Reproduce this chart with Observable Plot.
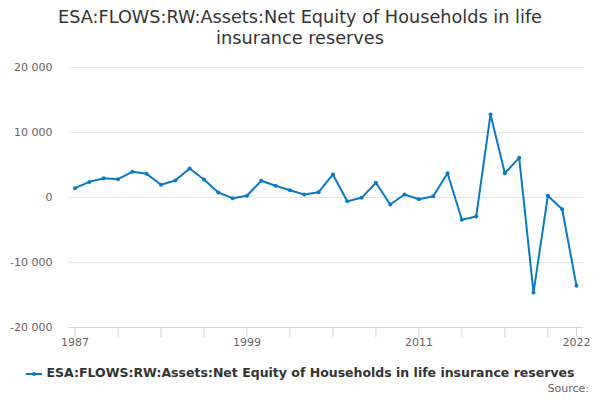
<!DOCTYPE html>
<html>
<head>
<meta charset="utf-8">
<script src="https://cdn.jsdelivr.net/npm/d3@7"></script>
<script src="https://cdn.jsdelivr.net/npm/@observablehq/plot@0.6"></script>
<style>
  body { margin: 0; background: #fff; font-family: "DejaVu Sans", sans-serif; }
  #chart { width: 600px; height: 400px; position: relative; overflow: hidden; }
  #title { box-sizing: border-box; height: 50px; padding-top: 7px; text-align: center; font-size: 17.7px; line-height: 21px; color: #333; }
  #legend { box-sizing: border-box; height: 27px; padding-top: 10px; text-align: center; font-size: 12.5px; font-weight: bold; line-height: 16px; color: #333; white-space: nowrap; }
  #legend svg { vertical-align: middle; margin-right: 5px; }
  #source { position: absolute; right: 11px; top: 382px; font-size: 11px; color: #666; }
</style>
</head>
<body>
<div id="chart">
  <div id="title">ESA:FLOWS:RW:Assets:Net Equity of Households in life<br>insurance reserves</div>
  <div id="plot"></div>
  <div id="legend"><svg width="16" height="10"><line x1="0" y1="5" x2="16" y2="5" stroke="#0a7bc1" stroke-width="2"/><circle cx="8" cy="5" r="2" fill="#0a7bc1"/></svg>ESA:FLOWS:RW:Assets:Net Equity of Households in life insurance reserves</div>
  <div id="source">Source:</div>
</div>
<script>
const years = [1987,1988,1989,1990,1991,1992,1993,1994,1995,1996,1997,1998,1999,2000,2001,2002,2003,2004,2005,2006,2007,2008,2009,2010,2011,2012,2013,2014,2015,2016,2017,2018,2019,2020,2021,2022];
const values = [1430,2400,2970,2820,3950,3640,1950,2620,4460,2770,770,-100,260,2570,1800,1120,460,820,3540,-570,-50,2260,-1080,460,-260,200,3740,-3430,-2920,12770,3740,6100,-14620,260,-1800,-13590];
const yTicks = [-20000,-10000,0,10000,20000];
const xTicks = [1987,1990,1993,1996,1999,2002,2005,2008,2011,2014,2017,2020,2022];
const xLabels = [1987,1999,2011,2022];
const seriesName = "ESA:FLOWS:RW:Assets:Net Equity of Households in life insurance reserves";

const data = years.map((y, i) => ({year: y, value: values[i]}));
const color = "#0a7bc1";
const fmt = d => d3.format(",")(d).replace(/,/g, " ").replace("−", "-");

const chart = Plot.plot({
  width: 600,
  height: 305,
  marginTop: 17,
  marginBottom: 28,
  marginLeft: 68,
  marginRight: 17,
  style: {fontFamily: "DejaVu Sans, sans-serif", fontSize: "11px", color: "#666", background: "#fff"},
  x: {domain: [1987, 2022], insetLeft: 6.5, insetRight: 7},
  y: {domain: [-20000, 20000]},
  marks: [
    Plot.ruleY(yTicks.filter(d => d !== -20000), {stroke: "#e6e6e6", strokeWidth: 1}),
    Plot.ruleY([-20000], {stroke: "#ccd6eb", strokeWidth: 1}),
    Plot.axisY({ticks: yTicks, tickFormat: fmt, tickSize: 0, tickPadding: 16, fill: "#666", fontSize: 11, label: null}),
    Plot.axisX({ticks: xTicks, tickFormat: d => xLabels.includes(d) ? String(d) : "", tickSize: 10, tickPadding: 1, stroke: "#ccd6eb", fill: "#666", fontSize: 11, label: null}),
    Plot.line(data, {x: "year", y: "value", stroke: color, strokeWidth: 2, title: () => seriesName}),
    Plot.dot(data, {x: "year", y: "value", fill: color, r: 2})
  ]
});
document.getElementById("plot").appendChild(chart);
</script>
</body>
</html>
